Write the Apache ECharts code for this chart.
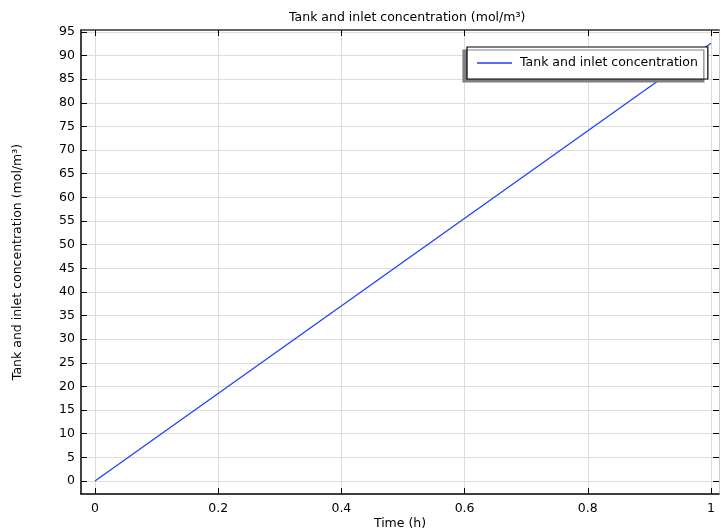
<!DOCTYPE html>
<html><head><meta charset="utf-8">
<script src="https://cdn.jsdelivr.net/npm/echarts@6/dist/echarts.min.js"></script>
<style>html,body{margin:0;padding:0;background:#fff}#c{width:721px;height:532px}</style>
</head><body><div id="c"></div>
<script>
const timeValues = [0, 1];
const concValues = [0, 92.6];
const xTicks = [0, 0.2, 0.4, 0.6, 0.8, 1];
const yTicks = [0,5,10,15,20,25,30,35,40,45,50,55,60,65,70,75,80,85,90,95];
const seriesName = 'Tank and inlet concentration';

const font = 'DejaVu Sans';
const fs = 12.5;
const chart = echarts.init(document.getElementById('c'));
const data = timeValues.map((t, i) => [t, concValues[i]]);
const xMin = -0.0227, xMax = 1.013, yMin = -2.75, yMax = 95.4;
const grid = {left: 81, right: 2, top: 30, bottom: 38, outerBoundsMode: 'none', containLabel: false};
function xAx(pos, show) {
  return {type: 'value', position: pos, min: xMin, max: xMax,
    axisLine: {show: true, onZero: false, lineStyle: {color: pos === 'bottom' ? '#000' : '#333', width: 1.5}},
    axisTick: {show: true, inside: true, length: 6, customValues: xTicks, lineStyle: {color: '#000'}},
    axisLabel: {show: show, customValues: xTicks, color: '#000', fontFamily: font, fontSize: fs, margin: 8},
    splitLine: {show: show, lineStyle: {color: '#dcdcdc'}},
    name: show ? 'Time (h)' : '', nameLocation: 'middle', nameGap: 23, nameMoveOverlap: false,
    nameTextStyle: {color: '#000', fontFamily: font, fontSize: fs}};
}
function yAx(pos, show) {
  return {type: 'value', position: pos, min: yMin, max: yMax,
    axisLine: {show: true, onZero: false, lineStyle: {color: pos === 'left' ? '#000' : '#ccc', width: pos === 'left' ? 1.5 : 1}},
    axisTick: {show: true, inside: true, length: 6, customValues: yTicks, lineStyle: {color: '#000'}},
    axisLabel: {show: show, customValues: yTicks, color: '#000', fontFamily: font, fontSize: fs, margin: 6},
    splitLine: {show: show, lineStyle: {color: '#dcdcdc'}},
    name: show ? 'Tank and inlet concentration (mol/m³)' : '', nameLocation: 'middle', nameGap: 57, nameMoveOverlap: false,
    nameTextStyle: {color: '#000', fontFamily: font, fontSize: fs}};
}
chart.setOption({
  animation: false,
  title: {text: 'Tank and inlet concentration (mol/m³)', left: 284, top: 6,
    textStyle: {color: '#000', fontFamily: font, fontSize: fs, fontWeight: 'normal'}},
  grid: grid,
  xAxis: [xAx('bottom', true), xAx('top', false)],
  yAxis: [yAx('left', true), yAx('right', false)],
  legend: {left: 467, top: 47, orient: 'vertical', padding: [8, 10, 8, 10],
    borderColor: '#000', borderWidth: 1.2, backgroundColor: '#fff',
    shadowColor: '#808080', shadowBlur: 0, shadowOffsetX: -4, shadowOffsetY: 3,
    itemWidth: 35, itemHeight: 1.3, itemGap: 6,
    data: [{name: seriesName, icon: 'rect'}],
    textStyle: {color: '#000', fontFamily: font, fontSize: fs, padding: [0, 0, 0, 3], lineHeight: 16}},
  series: [{name: seriesName, type: 'line', data: data, symbol: 'none',
    lineStyle: {color: '#1f3fff', width: 1.3}, itemStyle: {color: '#1f3fff'}}]
});
</script></body></html>
